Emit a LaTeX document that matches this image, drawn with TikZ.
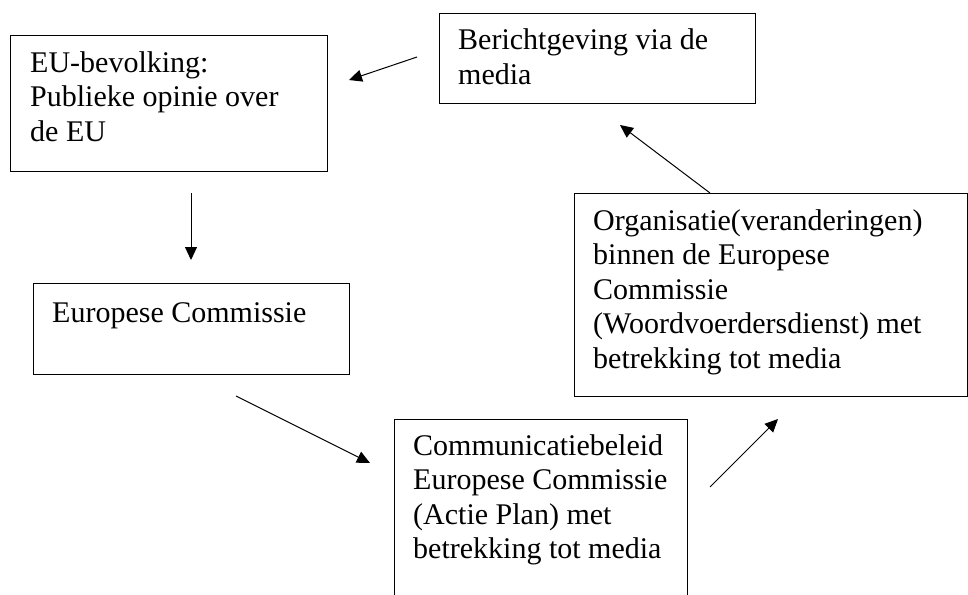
\documentclass[tikz,border=0pt]{standalone}
\usepackage{fontspec}
\setmainfont{Liberation Serif}
\usetikzlibrary{arrows.meta}
\newcommand{\mylines}[1]{\begin{tabular}[t]{@{}l@{}}#1\end{tabular}}
\begin{document}
\begin{tikzpicture}[x=1pt,y=-1pt,
  box/.style={draw, line width=1pt, inner sep=0pt, anchor=north west},
  txt/.style={anchor=base west, inner sep=0pt, font=\fontsize{30}{34.5}\selectfont},
  arr/.style={line width=1pt, -{Triangle[length=13pt,width=12pt]}}]
\useasboundingbox (0,0) rectangle (968,594);
% boxes
\node[box, minimum width=317pt, minimum height=136pt] (eu) at (10,35) {};
\node[box, minimum width=316pt, minimum height=90pt] (ber) at (439,13) {};
\node[box, minimum width=393pt, minimum height=203pt] (org) at (574,193) {};
\node[box, minimum width=316pt, minimum height=91pt] (ec) at (33,283) {};
\node[box, minimum width=293pt, minimum height=200pt] (com) at (394,419) {};
% texts
\node[txt] (teu) at (30,72) {\mylines{EU-bevolking:\\Publieke opinie over\\de EU}};
\node[txt] (tber) at (458,50) {\mylines{Berichtgeving via de\\media}};
\node[txt] (torg) at (593,230) {\mylines{Organisatie(veranderingen)\\binnen de Europese\\Commissie\\(Woordvoerdersdienst) met\\betrekking tot media}};
\node[txt] (tec) at (52,322) {Europese Commissie};
\node[txt] (tcom) at (413,455) {\mylines{Communicatiebeleid\\Europese Commissie\\(Actie Plan) met\\betrekking tot media}};
% arrow ends
\coordinate (a1s) at (417,57);
\coordinate (a1e) at (349,80);
\coordinate (a2s) at (191,193);
\coordinate (a2e) at (191,260);
\coordinate (a3s) at (236,396);
\coordinate (a3e) at (370,463);
\coordinate (a4s) at (710,487);
\coordinate (a4e) at (778,419);
\coordinate (a5s) at (710,193);
\coordinate (a5e) at (620,125);
\draw[arr] (a1s) -- (a1e);
\draw[arr] (a2s) -- (a2e);
\draw[arr] (a3s) -- (a3e);
\draw[arr] (a4s) -- (a4e);
\draw[arr] (a5s) -- (a5e);
\end{tikzpicture}
\end{document}
